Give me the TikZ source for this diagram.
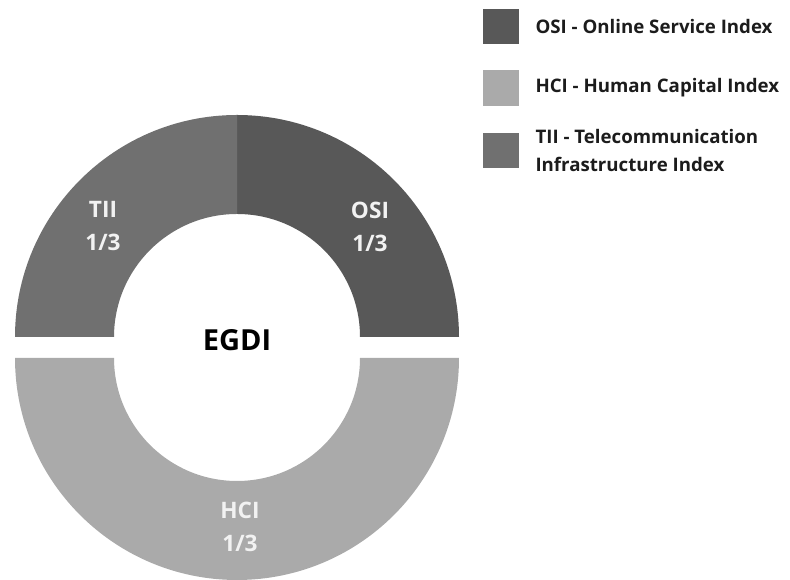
\documentclass[tikz,border=0pt]{standalone}
\usepackage{fontspec}
\setmainfont{Open Sans}
\usetikzlibrary{positioning}
\definecolor{osigray}{RGB}{88,88,88}
\definecolor{tiigray}{RGB}{112,112,112}
\definecolor{hcigray}{RGB}{170,170,170}
\definecolor{labelwhite}{RGB}{242,242,242}
\definecolor{legendink}{RGB}{28,28,28}

\begin{document}
\begin{tikzpicture}[
  x=0.75pt, y=0.75pt,
  ringlabel/.style={text=labelwhite, font=\fontsize{17}{24.75}\selectfont\bfseries, align=center},
  swatch/.style={minimum width=27pt, minimum height=26.5pt, inner sep=0pt},
  legendtext/.style={text=legendink, font=\fontsize{14}{21}\selectfont\bfseries, align=left, inner sep=0pt}
]
\useasboundingbox (0,0) rectangle (790,580);
% upper half of the ring
\fill[osigray] (459,243) arc[start angle=0, end angle=90, radius=222] -- (237,366) arc[start angle=90, end angle=0, radius=123] -- cycle;
\fill[tiigray] (237,465) arc[start angle=90, end angle=180, radius=222] -- (114,243) arc[start angle=180, end angle=90, radius=123] -- cycle;
% lower half
\fill[hcigray] (15,222) arc[start angle=180, end angle=360, radius=222] -- (360,222) arc[start angle=0, end angle=-180, radius=123] -- cycle;
\node[ringlabel] (osilabel) at (370,353.5) {OSI\\1/3};
\node[ringlabel] (tiilabel) at (103,353.5) {TII\\1/3};
\node[ringlabel] (hcilabel) at (240,53.5) {HCI\\1/3};
\node[font=\fontsize{21.75}{26}\selectfont\bfseries] (egdi) at (237,240) {EGDI};
% legend
\node[swatch, fill=osigray] (osibox) at (501,553.5) {};
\node[swatch, fill=hcigray] (hcibox) at (501,492) {};
\node[swatch, fill=tiigray] (tiibox) at (501,429.5) {};
\node[legendtext, right=12pt of osibox] (ositext) {OSI - Online Service Index};
\node[legendtext, right=12pt of hcibox] (hcitext) {HCI - Human Capital Index};
\node[legendtext, right=12pt of tiibox] (tiitext) {TII - Telecommunication\\Infrastructure Index};
\end{tikzpicture}
\end{document}
